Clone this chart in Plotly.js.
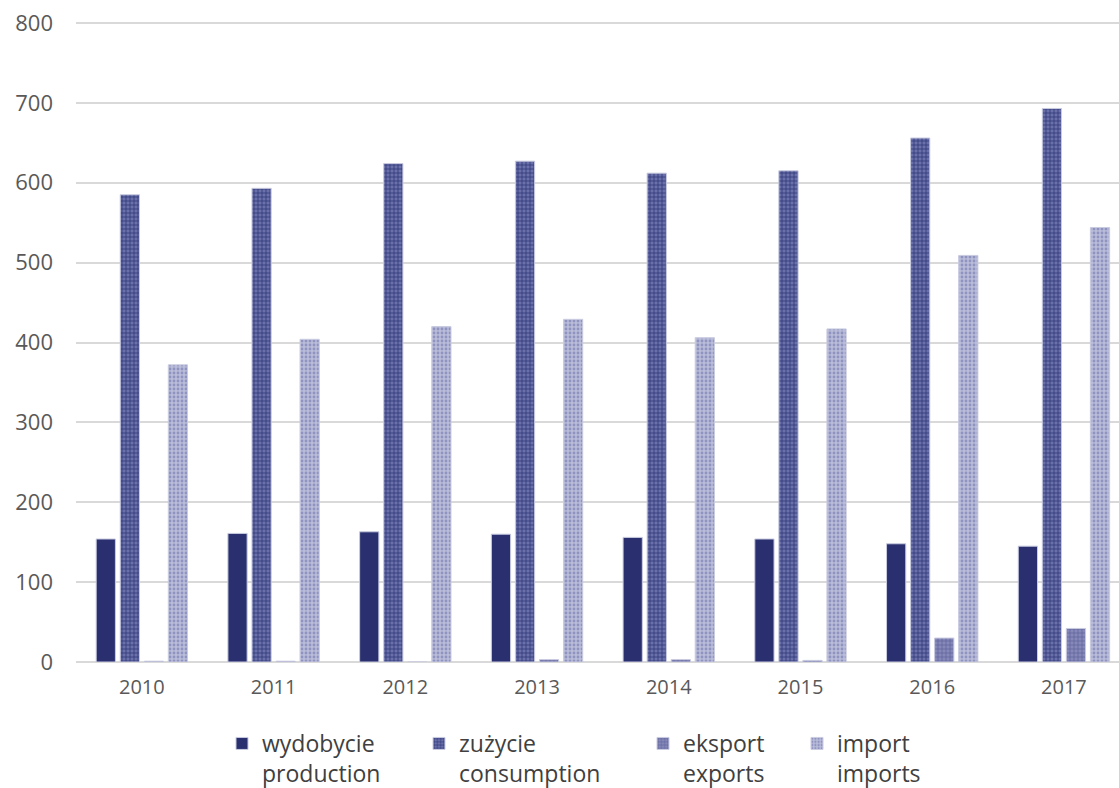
<!DOCTYPE html>
<html><head><meta charset="utf-8">
<script src="https://cdn.plot.ly/plotly-3.0.1.min.js"></script>
<style>body{margin:0;background:#fff}#c{width:1119px;height:788px}</style>
</head><body><div id="c"></div>
<script>
const years = ['2010','2011','2012','2013','2014','2015','2016','2017'];
const production = [154,161,163,160,156,154,148,145];
const consumption = [585,593,624,627,612,615,656,693];
const exportsV = [1,1,0,3,3,2,30,42];
const importsV = [372,404,420,429,406,417,509,544];
const names = ['wydobycie<br>production','zużycie<br>consumption','eksport<br>exports','import<br>imports'];

const line = {color:'#c9cbe0', width:1};
const traces = [
  {type:'bar', x:years, y:production, name:names[0], legend:'legend',
   marker:{color:'#2a306f', line:line}},
  {type:'bar', x:years, y:consumption, name:names[1], legend:'legend2',
   marker:{color:'#4a5192', line:line, pattern:{shape:'+', size:4, solidity:0.35, fgcolor:'#2f3576', bgcolor:'#6a70aa', fillmode:'replace'}}},
  {type:'bar', x:years, y:exportsV, name:names[2], legend:'legend3',
   marker:{color:'#7074a8', line:line, pattern:{shape:'+', size:4, solidity:0.3, fgcolor:'#5a5f99', bgcolor:'#8588b8', fillmode:'replace'}}},
  {type:'bar', x:years, y:importsV, name:names[3], legend:'legend4',
   marker:{color:'#a8abcf', line:line, pattern:{shape:'.', size:4, solidity:0.4, fgcolor:'#8f93c0', bgcolor:'#babdd9', fillmode:'replace'}}}
];
const LEG_TOP = 722;
const lf = {family:'Open Sans, sans-serif', size:23, color:'#404040'};
function leg(textLeftPx){
  return {x:(textLeftPx-41)/1119, y:1-(LEG_TOP/788), xref:'container', yref:'container', xanchor:'left', yanchor:'top',
          orientation:'h', font:lf, valign:'top', bgcolor:'rgba(0,0,0,0)', itemwidth:30, tracegroupgap:0};
}
const layout = {
  width:1119, height:788,
  margin:{l:76, r:0, t:19, b:126, autoexpand:false},
  paper_bgcolor:'#fff', plot_bgcolor:'#fff',
  barmode:'group', bargap:0.27, bargroupgap:0.2,
  showlegend:true,
  font:{family:'Open Sans, sans-serif', color:'#595959'},
  xaxis:{type:'category', range:[-0.5, 7.418], showgrid:false, zeroline:false, showline:false, ticks:'',
         tickfont:{size:20, color:'#595959'}, ticklabelstandoff:11, fixedrange:true, automargin:false},
  yaxis:{range:[0,805], tickvals:[0,100,200,300,400,500,600,700,800], showgrid:true, gridcolor:'#d9d9d9', gridwidth:2, zeroline:true, zerolinecolor:'#d9d9d9', zerolinewidth:2,
         showline:false, ticks:'', tickfont:{size:22, color:'#595959'}, ticklabelstandoff:22, fixedrange:true, automargin:false},
  legend:leg(263),
  legend2:leg(460),
  legend3:leg(684),
  legend4:leg(838)
};
Plotly.newPlot('c', traces, layout, {displayModeBar:false, staticPlot:true});
</script></body></html>
